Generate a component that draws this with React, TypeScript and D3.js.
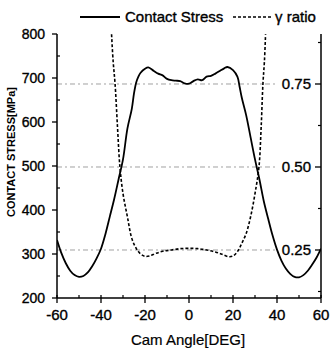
import React from "react";
import * as d3 from "d3";

const stressAngles = [-60, -58, -56, -54, -52, -50, -48, -46, -44, -42, -40, -38, -36, -34, -32, -30, -28, -26, -25, -24, -23, -22, -20, -18.5, -16, -14, -12, -10, -8, -6, -4, -2, 0, 2, 4, 6, 8, 10, 12, 14, 16, 17.5, 20, 22, 23, 24, 26, 28, 30, 32, 34, 36, 38, 40, 42, 44, 46, 48, 50, 52, 54, 56, 58, 60];
const stressValues = [332, 302, 279, 262, 252, 248, 250, 258, 272, 290, 312, 345, 385, 425, 470, 515, 585, 630, 665, 690, 703, 712, 721, 724, 716, 710, 706, 698, 695, 694, 693, 688, 687, 693, 697, 695, 703, 705, 710, 716, 722, 725, 718, 703, 680, 655, 615, 565, 515, 470, 420, 380, 342, 310, 285, 267, 255, 248, 247, 252, 262, 276, 292, 312];

const ratioAngles = [-35.2, -34.5, -33.6, -32.5, -31.4, -30, -28, -26, -24, -22, -20, -18, -15, -12, -8, -4, 0, 4, 8, 12, 15, 18, 20, 22, 24, 26, 28, 30, 31.8, 32.8, 33.6, 34.3, 34.8];
const ratioValues = [0.9, 0.82, 0.75, 0.62, 0.5, 0.42, 0.35, 0.285, 0.255, 0.238, 0.231, 0.232, 0.24, 0.246, 0.25, 0.254, 0.255, 0.254, 0.25, 0.244, 0.237, 0.23, 0.232, 0.245, 0.27, 0.3, 0.35, 0.42, 0.5, 0.62, 0.75, 0.82, 0.9];

const xTicks = [-60, -40, -20, 0, 20, 40, 60];
const xMinorTicks = [-50, -30, -10, 10, 30, 50];
const yTicks = [200, 300, 400, 500, 600, 700, 800];
const yMinorTicks = [250, 350, 450, 550, 650, 750];
const rTicks = [0.25, 0.5, 0.75];
const rTickLabels = ["0.25", "0.50", "0.75"];
const rMinorTicks = [0.125, 0.375, 0.625, 0.875];

const FONT = "'Liberation Sans', Arial, sans-serif";

export default function App() {
  const L = 57, R = 321, T = 34, B = 298;
  const x = d3.scaleLinear().domain([-60, 60]).range([L, R]);
  const y = d3.scaleLinear().domain([200, 800]).range([B, T]);
  const yr = d3.scaleLinear().domain([0.1054, 0.9006]).range([B, T]);

  const stressLine = d3
    .line<number>()
    .x((_, i) => x(stressAngles[i]))
    .y((v) => y(v))
    .curve(d3.curveCatmullRom.alpha(0.5));
  const ratioLine = d3
    .line<number>()
    .x((_, i) => x(ratioAngles[i]))
    .y((v) => yr(v))
    .curve(d3.curveCatmullRom.alpha(0.5));

  const txt = { fill: "#000", stroke: "#000", strokeWidth: 0.35 };

  return (
    <svg width={331} height={352} style={{ position: "absolute", left: 0, top: 0, background: "#fff" }} fontFamily={FONT}>
      <defs>
        <clipPath id="plot">
          <rect x={L} y={T} width={R - L} height={B - T} />
        </clipPath>
      </defs>
      {rTicks.map((t) => (
        <line key={"g" + t} x1={L} x2={278} y1={yr(t)} y2={yr(t)} stroke="#8a8a8a" strokeWidth={0.8} strokeDasharray="5,3,2,3" />
      ))}
      <g clipPath="url(#plot)">
        <path d={stressLine(stressValues) || ""} fill="none" stroke="#000" strokeWidth={1.8} />
        <path d={ratioLine(ratioValues) || ""} fill="none" stroke="#000" strokeWidth={1.6} strokeDasharray="3,2" />
      </g>
      <line x1={L} x2={L} y1={T} y2={B} stroke="#000" strokeWidth={1.5} />
      {yTicks.map((t) => (
        <g key={"y" + t}>
          <line x1={L - 5} x2={L} y1={y(t)} y2={y(t)} stroke="#000" strokeWidth={1.3} />
          <text x={L - 12} y={y(t)} dy="0.36em" textAnchor="end" fontSize={14} {...txt}>{t}</text>
        </g>
      ))}
      {yMinorTicks.map((t) => (
        <line key={"ym" + t} x1={L} x2={L + 3} y1={y(t)} y2={y(t)} stroke="#000" strokeWidth={1.2} />
      ))}
      <line x1={L} x2={R} y1={B} y2={B} stroke="#000" strokeWidth={1.5} />
      {xTicks.map((t) => (
        <g key={"x" + t}>
          <line x1={x(t)} x2={x(t)} y1={B - 3} y2={B + 5} stroke="#000" strokeWidth={1.3} />
          <text x={x(t)} y={B + 22} textAnchor="middle" fontSize={15} {...txt}>{t}</text>
        </g>
      ))}
      {xMinorTicks.map((t) => (
        <line key={"xm" + t} x1={x(t)} x2={x(t)} y1={B - 3} y2={B} stroke="#000" strokeWidth={1.2} />
      ))}
      <line x1={R} x2={R} y1={T} y2={B} stroke="#000" strokeWidth={1.5} />
      {rTicks.map((t, i) => (
        <g key={"r" + t}>
          <line x1={R - 6} x2={R} y1={yr(t)} y2={yr(t)} stroke="#000" strokeWidth={1.3} />
          <text x={R - 10} y={yr(t)} dy="0.36em" textAnchor="end" fontSize={15} {...txt}>{rTickLabels[i]}</text>
        </g>
      ))}
      {rMinorTicks.map((t) => (
        <line key={"rm" + t} x1={R - 3} x2={R} y1={yr(t)} y2={yr(t)} stroke="#000" strokeWidth={1.2} />
      ))}
      <text transform={`translate(15,152) rotate(-90)`} textAnchor="middle" fontSize={11} fontWeight="bold" fill="#000">CONTACT STRESS[MPa]</text>
      <text x={188} y={345} textAnchor="middle" fontSize={15} {...txt} strokeWidth={0.2}>Cam Angle[DEG]</text>
      <line x1={80} x2={120} y1={17} y2={17} stroke="#000" strokeWidth={1.8} />
      <text x={125} y={22} fontSize={15} {...txt}>Contact Stress</text>
      <line x1={233} x2={272} y1={17} y2={17} stroke="#000" strokeWidth={1.5} strokeDasharray="3,2" />
      <text x={275} y={22} fontSize={15} {...txt}>γ ratio</text>
    </svg>
  );
}
